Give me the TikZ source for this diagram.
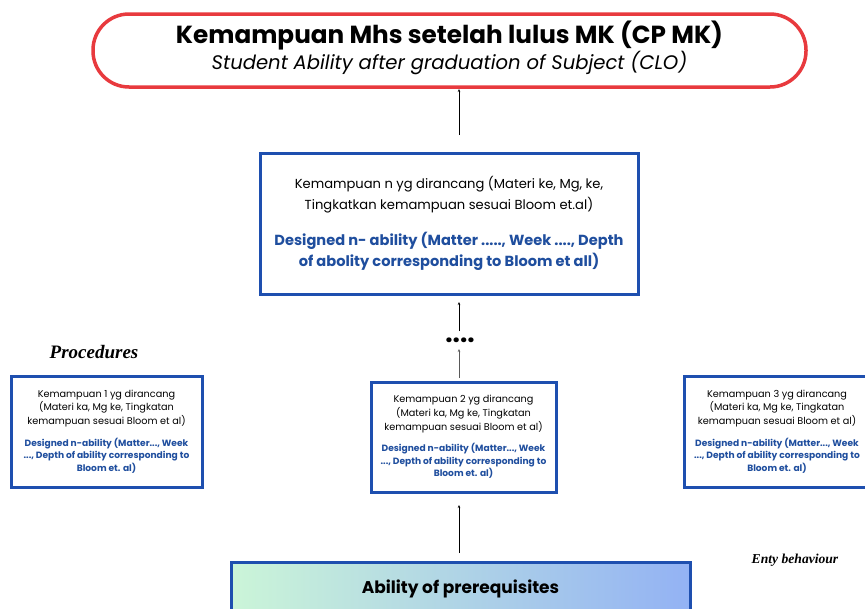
\documentclass[tikz,border=0pt]{standalone}
\usepackage{fontspec}
\setmainfont{Poppins}
\newfontfamily\serifbf{Liberation Serif}
\usetikzlibrary{arrows.meta,calc}
\definecolor{boxblue}{HTML}{1E4FAF}
\definecolor{txtblue}{HTML}{1F4E9E}
\definecolor{redline}{HTML}{E83A3E}
\definecolor{mint}{HTML}{CBF5D8}
\definecolor{skyb}{HTML}{93B2F4}
\tikzset{
  bluebox/.style={draw=boxblue, line width=3pt, fill=white, align=center, inner sep=0pt},
  conn/.style={-{Stealth[length=3pt,width=2.5pt]}, line width=0.8pt, black},
}
\begin{document}
\begin{tikzpicture}[x=1pt,y=-1pt]
\useasboundingbox (0,0) rectangle (865,608);
\clip (0,0) rectangle (865,608);
\fill[white] (0,0) rectangle (865,608);
% top
\node[draw=redline, line width=3.5pt, rounded corners=36pt, minimum width=713pt, minimum height=73pt, inner sep=0pt] (top) at (449.5,50.5) {};
\node[inner sep=0pt, align=center] (toptxt) at (449.5,47.5)
 {{\fontsize{24.7}{27}\selectfont\bfseries Kemampuan Mhs setelah lulus MK (CP MK)}\\[0pt]
  {\fontsize{19.6}{22}\selectfont\itshape Student Ability after graduation of Subject (CLO)}};
% box n
\node[bluebox, minimum width=378pt, minimum height=141pt] (bn) at (449,223.5)
 {\begin{minipage}{370pt}\centering
  {\fontsize{13.1}{20.5}\selectfont Kemampuan n yg dirancang (Materi ke, Mg, ke,\\ Tingkatkan kemampuan sesuai Bloom et.al)\par}
  \vspace{15pt}
  {\fontsize{14.6}{21}\selectfont\bfseries\color{txtblue} Designed n- ability (Matter ....., Week ...., Depth\\ of abolity corresponding to Bloom et all)\par}
  \end{minipage}};
% dots
\node[inner sep=0pt, font=\fontsize{26}{26}\selectfont\bfseries] (dots) at (460,340) {....};
% small boxes
\newcommand{\smallcontent}[1]{\begin{minipage}{185pt}\centering
  {\fontsize{9.7}{13.8}\selectfont Kemampuan #1 yg dirancang\\ (Materi ka, Mg ke, Tingkatan\\ kemampuan sesuai Bloom et al)\par}
  \vspace{9pt}
  {\fontsize{9.1}{12.6}\selectfont\bfseries\color{txtblue} Designed n-ability (Matter..., Week\\ ..., Depth of ability corresponding to\\ Bloom et. al)\par}
  \end{minipage}}
\node[bluebox, minimum width=191pt, minimum height=111pt] (b1) at (106.5,431.5) {\smallcontent{1}};
\node[bluebox, minimum width=183pt, minimum height=110pt] (b2) at (463.5,437) {\smallcontent{2}};
\node[bluebox, minimum width=186pt, minimum height=111pt] (b3) at (777,431.5) {\smallcontent{3}};
% labels
\node[font=\serifbf\fontsize{19}{20}\selectfont\bfseries\itshape, inner sep=0pt] (proc) at (94,352) {Procedures};
\node[font=\serifbf\fontsize{13.6}{15}\selectfont\bfseries\itshape, inner sep=0pt] (enty) at (795,560) {Enty behaviour};
% bottom
\node[draw=boxblue, line width=3pt, left color=mint, right color=skyb, minimum width=459pt, minimum height=56pt, inner sep=0pt] (bot) at (460.5,590) {};
\node[font=\fontsize{17}{20}\selectfont\bfseries, inner sep=0pt] (bottxt) at (460.5,589) {Ability of prerequisites};
% connectors
\coordinate (a1s) at (459,553);
\coordinate (a1e) at (459,505);
\draw[conn] (a1s) -- (a1e);
\coordinate (a2s) at (459,378);
\coordinate (a2e) at (459,349);
\draw[conn, gray!70!black] (a2s) -- (a2e);
\coordinate (a3s) at (459,331);
\coordinate (a3e) at (459,302);
\draw[conn] (a3s) -- (a3e);
\coordinate (a4s) at (459,135);
\coordinate (a4e) at (459,89);
\draw[conn] (a4s) -- (a4e);
\end{tikzpicture}
\end{document}
